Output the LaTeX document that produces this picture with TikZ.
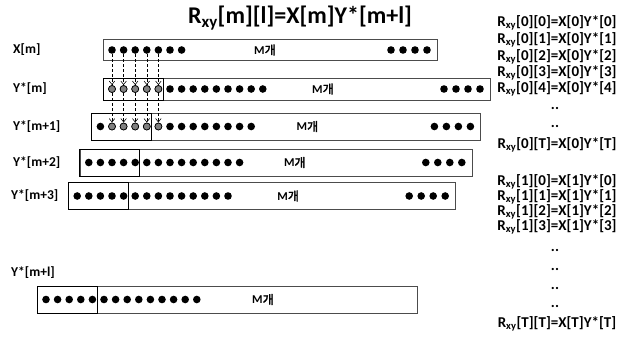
\documentclass[tikz,border=0pt]{standalone}
\usepackage{fontspec}
\setmainfont{Carlito}
\newfontfamily\kr{Noto Sans CJK KR}[AutoFakeBold=2.5]
\usetikzlibrary{arrows.meta}
\tikzset{
  rowbox/.style={draw=black!70, line width=0.6pt, inner sep=0pt},
  innerbox/.style={draw=black, line width=0.7pt},
  dot/.style={circle, fill=black, inner sep=0pt, minimum size=7.6pt},
  hdot/.style={circle, fill=black!50, draw=black, line width=0.7pt, inner sep=0pt, minimum size=7pt},
  mlab/.style={font=\bfseries\fontsize{12}{14}\selectfont, inner sep=0pt},
  rowlab/.style={font=\bfseries\fontsize{13.5}{15}\selectfont, anchor=west, inner sep=0pt},
  eq/.style={font=\bfseries\fontsize{15}{16}\selectfont, inner sep=0pt},
  arr/.style={densely dashed, line width=0.55pt, -{Straight Barb[length=3.5pt,width=5.5pt]}},
}
\newcommand{\yrow}[6]{% name, left, y, width, Mpos, right dots
  \node[rowbox, minimum width=#4pt, minimum height=27pt, anchor=west] (#1box) at (#2,#3) {};
  \draw[innerbox] (#2,#3-13.5) rectangle (#2+60,#3+13.5);
  \foreach \i in {1,...,14} \node[dot] (#1d\i) at ({#2+9+11.6*(\i-1)},#3) {};
  \node[mlab] (#1m) at (#2+#5,#3) {M{\kr 개}};
  \ifnum#6=1
    \foreach \i in {1,...,4} \node[dot] (#1r\i) at ({#2+#4-46+12*(\i-1)},#3) {};
  \fi
}
\begin{document}
\begin{tikzpicture}[x=1pt,y=-1pt]
\useasboundingbox (0,0) rectangle (622,338);
% title
\node[font=\bfseries\fontsize{24}{26}\selectfont, inner sep=0pt] (title) at (300,18) {R\textsubscript{xy}[m][l]=X[m]Y*[m+l]};
% X row
\node[rowbox, minimum width=334pt, minimum height=21pt, anchor=west] (xbox) at (103,50) {};
\foreach \i in {1,...,7} \node[dot] (xd\i) at ({112+11.6*(\i-1)},50) {};
\node[mlab] (xm) at (265,50) {M{\kr 개}};
\foreach \i in {1,...,4} \node[dot] (xr\i) at ({391+12*(\i-1)},50) {};
\node[rowlab] (lx) at (13,50) {X[m]};
% Y rows
\node[rowbox, minimum width=387pt, minimum height=22pt, anchor=west] (mzbox) at (103,89) {};
\draw[innerbox] (103,78) rectangle (163,100);
\foreach \i in {1,...,14} \node[dot] (mzd\i) at ({112+11.6*(\i-1)},89) {};
\node[mlab] (mzm) at (323,89) {M{\kr 개}};
\foreach \i in {1,...,4} \node[dot] (mzr\i) at ({444+12*(\i-1)},89) {};
\node[rowlab] (lmz) at (13,89) {Y*[m]};

\yrow{ma}{91.4}{126.5}{389}{216}{1}
\node[rowlab] (lma) at (13,126.5) {Y*[m+1]};
\yrow{mb}{79.8}{162.5}{392}{215}{1}
\node[rowlab] (lmb) at (13,162.5) {Y*[m+2]};
\yrow{mc}{68.2}{196}{387}{220}{1}
\node[rowlab] (lmc) at (11,196) {Y*[m+3]};
\yrow{ml}{37}{299.5}{380}{226}{0}
\node[rowlab] (lml) at (11,273) {Y*[m+l]};
% highlighted dots under arrows
\foreach \i in {1,...,5} \node[hdot] at (mzd\i) {};
\foreach \i in {2,...,6} \node[hdot] at (mad\i) {};
% arrows
\foreach \i [evaluate=\i as \j using int(\i+1)] in {1,...,5} {
  \draw[arr] (xd\i) -- (mzd\i);
  \draw[arr] (mzd\i) -- (mad\j);
}
% right column
\begin{scope}[every node/.style={eq}]
\node (e1) at (557,23) {R\textsubscript{xy}[0][0]=X[0]Y*[0]};
\node (e2) at (557,40) {R\textsubscript{xy}[0][1]=X[0]Y*[1]};
\node (e3) at (557,57) {R\textsubscript{xy}[0][2]=X[0]Y*[2]};
\node (e4) at (557,73) {R\textsubscript{xy}[0][3]=X[0]Y*[3]};
\node (e5) at (557,89) {R\textsubscript{xy}[0][4]=X[0]Y*[4]};
\node (d1) at (555,108) {..};
\node (d2) at (555,126) {..};
\node (e6) at (557,145) {R\textsubscript{xy}[0][T]=X[0]Y*[T]};
\node (f1) at (557,182) {R\textsubscript{xy}[1][0]=X[1]Y*[0]};
\node (f2) at (557,197) {R\textsubscript{xy}[1][1]=X[1]Y*[1]};
\node (f3) at (557,212) {R\textsubscript{xy}[1][2]=X[1]Y*[2]};
\node (f4) at (557,227) {R\textsubscript{xy}[1][3]=X[1]Y*[3]};
\node (d3) at (555,250) {..};
\node (d4) at (555,269) {..};
\node (d5) at (555,288) {..};
\node (d6) at (555,306) {..};
\node (g1) at (557,324) {R\textsubscript{xy}[T][T]=X[T]Y*[T]};
\end{scope}
\end{tikzpicture}
\end{document}
